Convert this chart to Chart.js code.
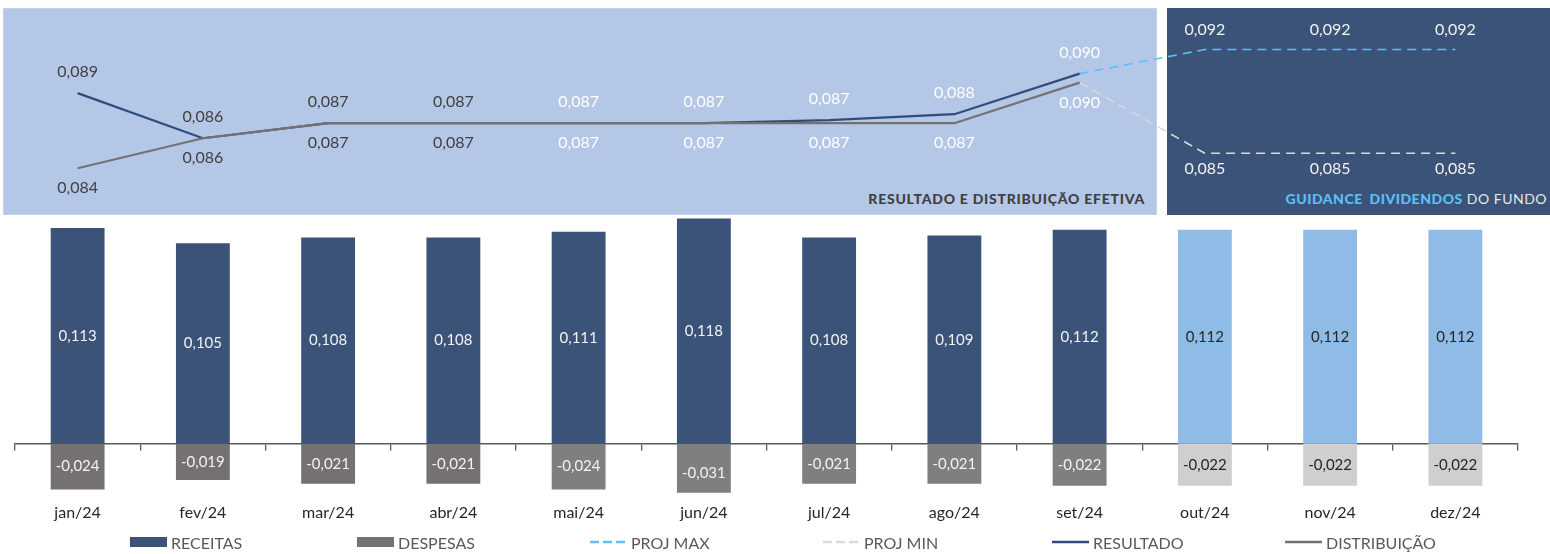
<!DOCTYPE html>
<html>
<head>
<meta charset="utf-8">
<script src="https://cdn.jsdelivr.net/npm/chart.js@4.4.1/dist/chart.umd.min.js"></script>
<style>
  html, body { margin:0; padding:0; background:#ffffff; }
  #wrap { position:relative; width:1550px; height:554px; overflow:hidden; font-family: Lato, "Noto Sans", sans-serif; }
  .panel { position:absolute; top:8px; height:207px; }
  #pLight { left:3px; width:1154px; background:#B4C7E7; box-shadow: inset 0 0 0 1px #C3D3EE; }
  #pDark { left:1167px; width:383px; background:#3B5378; }
  #tLeft { position:absolute; right:405px; top:190px; font-size:14px; font-weight:900; color:#404040; letter-spacing:0.75px; white-space:nowrap; }
  #tRight { position:absolute; right:3px; top:190px; font-size:14px; color:#E6E6E6; white-space:nowrap; letter-spacing:0.5px; }
  #tRight b { color:#5BC0F8; font-weight:900; word-spacing:3px; }
  canvas { position:absolute; left:0; top:0; }
  .lg { position:absolute; top:533px; height:18px; display:flex; align-items:center; font-size:16px; color:#595959; white-space:nowrap; }
  .lg .mk { margin-right:4px; }
</style>
</head>
<body>
<div id="wrap">
  <div class="panel" id="pLight"></div>
  <div class="panel" id="pDark"></div>
  <div id="tLeft">RESULTADO E DISTRIBUIÇÃO EFETIVA</div>
  <div id="tRight"><b>GUIDANCE DIVIDENDOS</b> DO FUNDO</div>
  <canvas id="c" width="1550" height="554"></canvas>
  <div id="legend"></div>
</div>
<script>
// ---- DATA ----
const months = ['jan/24','fev/24','mar/24','abr/24','mai/24','jun/24','jul/24','ago/24','set/24','out/24','nov/24','dez/24'];
const receitas = [0.113, 0.105, 0.108, 0.108, 0.111, 0.118, 0.108, 0.109, 0.112, 0.112, 0.112, 0.112];
const despesas = [-0.024, -0.019, -0.021, -0.021, -0.024, -0.031, -0.021, -0.021, -0.022, -0.022, -0.022, -0.022];
const resultado = [0.089, 0.086, 0.087, 0.087, 0.087, 0.087, 0.0872, 0.0876, 0.0903, null, null, null];
const distribuicao = [0.084, 0.086, 0.087, 0.087, 0.087, 0.087, 0.087, 0.087, 0.0897, null, null, null];
const projMax = [null, null, null, null, null, null, null, null, 0.0903, 0.0919, 0.0919, 0.0919];
const projMin = [null, null, null, null, null, null, null, null, 0.0897, 0.085, 0.085, 0.085];
const legendNames = ['RECEITAS', 'DESPESAS', 'PROJ MAX', 'PROJ MIN', 'RESULTADO', 'DISTRIBUIÇÃO'];
const firstProjected = 9; // out/24 onwards is guidance

// ---- STYLES ----
const C = {
  rec: '#3B5378', recProj: '#8FBCE6',
  desA: '#767171', desB: '#7F7F7F', desProj: '#D0CECE',
  res: '#2F4D7A', dist: '#767171', pmax: '#5BC0F8', pmin: '#D9D9D9',
  lblLight: '#F2F2F2', lblDark: '#262626', lblGrey: '#404040'
};
const recColors = receitas.map((v, i) => i >= firstProjected ? C.recProj : C.rec);
const desColors = despesas.map((v, i) => i >= firstProjected ? C.desProj : (i < 4 ? C.desA : C.desB));
const barLblColors = months.map((m, i) => i >= firstProjected ? C.lblDark : C.lblLight);
const lineLblColors = months.map((m, i) => i < 4 ? C.lblGrey : '#FFFFFF');

const fmt = v => v.toFixed(3).replace('.', ',');

const labelPlugin = {
  id: 'valueLabels',
  afterDatasetsDraw(chart) {
    const ctx = chart.ctx;
    chart.data.datasets.forEach((ds, di) => {
      if (!ds.lbl) return;
      const meta = chart.getDatasetMeta(di);
      meta.data.forEach((el, j) => {
        const v = ds.data[j];
        if (v == null || j < (ds.lbl.from || 0)) return;
        let x = el.x, y;
        if (ds.lbl.pos === 'center') y = (el.y + el.base) / 2;
        else if (ds.lbl.pos === 'above') y = el.y - ds.lbl.off;
        else y = el.y + ds.lbl.off;
        ctx.save();
        ctx.font = ds.lbl.font;
        ctx.fillStyle = ds.lbl.colors[j];
        ctx.textAlign = 'center';
        ctx.textBaseline = 'middle';
        ctx.fillText(fmt(v), x, y);
        ctx.restore();
      });
    });
  }
};

const barFont = '15px Lato';
const lineFont = '16px Lato';

new Chart(document.getElementById('c'), {
  type: 'bar',
  data: {
    labels: months,
    datasets: [
      { type: 'line', label: legendNames[5], data: distribuicao, yAxisID: 'y2', borderColor: C.dist, borderWidth: 2.2, pointRadius: 0, tension: 0, clip: false,
        lbl: { pos: 'below', off: 20, font: lineFont, colors: lineLblColors } },
      { type: 'line', label: legendNames[4], data: resultado, yAxisID: 'y2', borderColor: C.res, borderWidth: 2.2, pointRadius: 0, tension: 0, clip: false,
        lbl: { pos: 'above', off: 21, font: lineFont, colors: lineLblColors } },
      { type: 'line', label: legendNames[2], data: projMax, yAxisID: 'y2', borderColor: C.pmax, borderWidth: 1.6, borderDash: [9, 6], pointRadius: 0, tension: 0, clip: false,
        lbl: { pos: 'above', off: 20, font: lineFont, from: firstProjected, colors: months.map(() => '#F2F2F2') } },
      { type: 'line', label: legendNames[3], data: projMin, yAxisID: 'y2', borderColor: C.pmin, borderWidth: 1.6, borderDash: [9, 6], pointRadius: 0, tension: 0, clip: false,
        lbl: { pos: 'below', off: 16, font: lineFont, from: firstProjected, colors: months.map(() => '#F2F2F2') } },
      { label: legendNames[0], data: receitas, yAxisID: 'y', backgroundColor: recColors, barPercentage: 0.43, categoryPercentage: 1, clip: 0,
        lbl: { pos: 'center', font: barFont, colors: barLblColors } },
      { label: legendNames[1], data: despesas, yAxisID: 'y', backgroundColor: desColors, barPercentage: 0.43, categoryPercentage: 1, clip: 0,
        lbl: { pos: 'center', font: barFont, colors: barLblColors } }
    ]
  },
  options: {
    responsive: false,
    animation: false,
    devicePixelRatio: 1,
    layout: { padding: { top: 8, left: 15, right: 32, bottom: 22 } },
    plugins: { legend: { display: false }, tooltip: { enabled: false } },
    scales: {
      x: {
        stacked: true, offset: true,
        grid: { display: false, drawTicks: false },
        border: { display: false },
        ticks: { padding: 10, color: '#262626', font: { family: 'Lato', size: 16 } }
      },
      xz: {
        type: 'category', labels: months, position: { y: 0 }, offset: true, z: 1,
        grid: { display: true, offset: true, drawOnChartArea: false, drawTicks: true, tickLength: 6, color: '#595959', lineWidth: 1.3 },
        border: { display: true, color: '#595959', width: 1.5 },
        ticks: { display: false }
      },
      y: { stacked: true, display: false, min: -0.0257, max: 0.2282 },
      y2: { display: false, min: 0.0624, max: 0.094667 }
    }
  },
  plugins: [labelPlugin]
});

// ---- HTML legend (real text) ----
const legendItems = [
  { name: legendNames[0], kind: 'box', color: C.rec, left: 130 },
  { name: legendNames[1], kind: 'box', color: C.desA, left: 357 },
  { name: legendNames[2], kind: 'dash', color: C.pmax, left: 590 },
  { name: legendNames[3], kind: 'dash', color: C.pmin, left: 823 },
  { name: legendNames[4], kind: 'line', color: C.res, left: 1052 },
  { name: legendNames[5], kind: 'line', color: C.dist, left: 1285 }
];
const lg = document.getElementById('legend');
legendItems.forEach(it => {
  const d = document.createElement('div');
  d.className = 'lg';
  d.style.left = it.left + 'px';
  let mk;
  if (it.kind === 'box') {
    mk = `<span class="mk" style="display:inline-block;width:37px;height:10px;background:${it.color}"></span>`;
  } else {
    const dash = it.kind === 'dash' ? 'stroke-dasharray="9,4"' : '';
    mk = `<svg class="mk" width="37" height="10"><line x1="0" y1="5" x2="37" y2="5" stroke="${it.color}" stroke-width="2.4" ${dash}/></svg>`;
  }
  d.innerHTML = mk + `<span>${it.name}</span>`;
  lg.appendChild(d);
});
</script>
</body>
</html>
